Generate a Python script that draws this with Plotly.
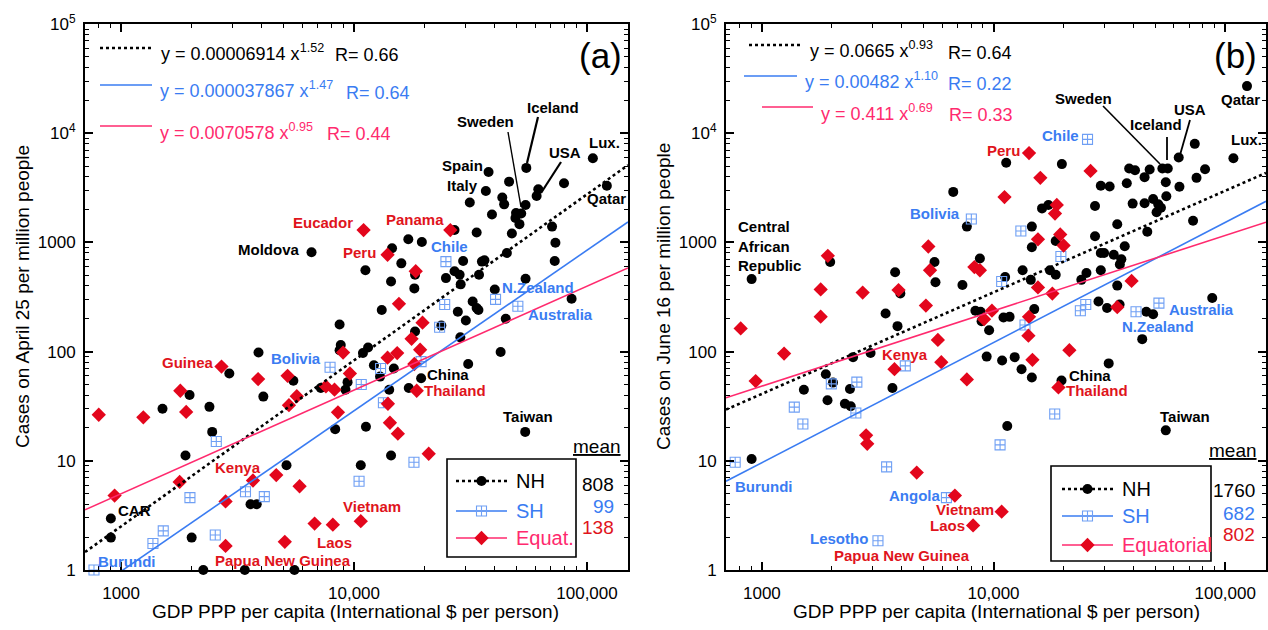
import numpy as np
import plotly.graph_objects as go

W, H = 1268, 630
FONT = "Liberation Sans, Arial, sans-serif"

# ---------------- data: panel (a) April 25 ----------------
nh_a_gdp = [106000, 54900, 37800, 46300, 61800, 60800, 79700, 36800, 121700, 43300,
            44100, 31400, 54500, 39100, 49600, 52200, 51300, 49300, 70800, 33600,
            47600, 27000, 73200, 45300, 17100, 19550, 14560, 6570, 15960, 29400,
            35400, 36300, 72700, 11190, 18280, 27000, 28400, 24800, 34400, 14420,
            54500, 28700, 18150, 40200, 85900, 32300, 33600, 34200, 27900, 13150,
            44800, 30200, 23700, 8670, 18280, 28600, 8770, 8670, 11490, 10920,
            42600, 3890, 30900, 12170, 14820, 2915, 12930, 19410, 5490, 9380,
            1968, 4080, 7200, 9190, 14160, 17180, 1506, 2395, 8300, 11250,
            54300, 2461, 14420, 1890, 5130, 10690, 3595, 3822, 904, 904,
            2009, 2254, 3397, 5548]
nh_a_cases = [5900, 4810, 4410, 3600, 3070, 2660, 3475, 2960, 3300, 2580,
              2230, 2320, 2200, 1800, 1860, 1840, 1470, 1670, 1395, 1234,
              1207, 1298, 993, 800, 1067, 1007, 885, 811, 643, 676,
              667, 686, 676, 556, 506, 544, 506, 471, 506, 438,
              464, 413, 379, 371, 305, 288, 251, 240, 232, 240,
              200, 193, 173, 177, 153, 135, 115, 103, 109, 97,
              99, 98, 77, 75, 70, 63, 59, 57, 54, 52.5,
              40, 38.7, 46.4, 44.8, 44.8, 46.4, 30, 31.2, 19.5, 20.5,
              18.4, 18.4, 11.2, 11.2, 9.1, 9.1, 4.0, 4.0, 2.96, 1.98,
              1.98, 1.0, 1.0, 1.0]

sh_a_gdp = [24800, 40500, 24500, 50500, 23300, 19400, 13000, 7890, 10740, 13370,
            2563, 18080, 10510, 1975, 3420, 4120, 1517, 1370, 2537, 765]
sh_a_cases = [667, 301, 270, 260, 167, 81, 70, 72, 50, 34,
              15, 9.7, 6.5, 4.6, 5.2, 4.7, 2.28, 1.75, 2.09, 1.0]

eq_a_gdp = [10990, 25900, 13930, 18400, 15590, 19680, 17660, 8975, 13930, 15320,
            19220, 18150, 2698, 9600, 3875, 5185, 1796, 7574, 8245, 18580,
            5679, 5255, 13980, 802, 1246, 1903, 8530, 14260, 15420, 20920,
            3683, 4636, 5838, 1784, 938, 2809, 10690, 6772, 8110, 5045,
            2809, 3915]
eq_a_cases = [1298, 1298, 771, 544, 274, 184, 131, 98, 88, 97,
              104, 77, 73, 63, 56, 60, 43.8, 48, 44.8, 43.8,
              39, 32.3, 33.3, 26.4, 25, 28, 27.8, 22.3, 17.7, 11.6,
              6.6, 7.4, 5.85, 6.4, 4.8, 4.25, 2.8, 2.66, 2.6, 1.81,
              1.66, 0.9]

# ---------------- data: panel (b) June 16 ----------------
nh_b_gdp = [124200, 108500, 73900, 63000, 53550, 56500, 81850, 75200, 38500, 40800,
            47200, 44870, 55400, 63450, 29040, 31720, 37600, 19720, 11340, 6700,
            55700, 48850, 44870, 17250, 51400, 52800, 50550, 39850, 27420, 34200,
            72650, 46100, 27420, 36840, 29040, 30000, 33040, 35620, 35100, 29040,
            25180, 23930, 34200, 28370, 30900, 35000, 87900, 45650, 48850, 43830,
            14630, 14630, 16190, 18550, 7670, 1972, 903, 3760, 5560, 5615,
            3960, 7340, 8730, 11220, 13350, 14480, 17510, 18550, 3420, 3850,
            2945, 2475, 8350, 8790, 8880, 9570, 11040, 11730, 14990, 9340,
            10890, 12340, 13210, 14630, 19650, 31410, 1888, 2027, 1518, 1920,
            2282, 2418, 2400, 3660, 11460, 55400, 903]
nh_b_cases = [27000, 5890, 7990, 5980, 4745, 4745, 4675, 3900, 4745, 4575,
              4645, 3960, 3550, 3230, 3300, 3255, 3475, 5210, 5370, 2900,
              2650, 2500, 2280, 2200, 2235, 2078, 1891, 2266, 2155, 1468,
              1578, 1251, 1140, 923, 799, 799, 771, 702, 629, 556,
              525, 454, 402, 288, 251, 270, 310, 232, 220, 130,
              1395, 903, 2048, 1030, 1395, 662, 461, 533, 662, 432,
              340, 407, 711, 481, 556, 454, 556, 506, 223, 171,
              97, 89, 237, 232, 190, 157, 205, 208, 245, 90,
              83, 89, 69, 58, 54.4, 78, 62, 52, 44.8, 35.8,
              33.3, 31.6, 45.4, 46.4, 20.8, 19.0, 10.4]

sh_b_gdp = [25450, 8020, 13120, 19530, 10840, 25010, 23700, 51750, 41210, 13670,
            4160, 2570, 1994, 1380, 1503, 2545, 18370, 10670, 3455, 767,
            6260, 3170]
sh_b_cases = [8770, 1636, 1270, 743, 438, 270, 237, 278, 232, 175,
              74, 52.5, 50.6, 31, 21.7, 27.4, 26.8, 14, 8.8, 9.7,
              4.6, 1.85]

eq_b_gdp = [14230, 15920, 26230, 11150, 18750, 18420, 15550, 19400, 20060, 5230,
            1926, 5320, 8265, 8730, 1794, 2723, 3890, 15550, 17940, 5105,
            39430, 34200, 1794, 810, 9840, 9100, 14230, 14140, 5750, 1247,
            21250, 14720, 5950, 3735, 940, 7670, 19060, 2818, 2850, 4660,
            6810, 10840, 8160, 3957]
eq_b_cases = [6570, 3900, 4510, 2600, 2202, 1837, 1067, 1181, 937, 917,
              754, 556, 594, 556, 371, 347, 366, 387, 340, 264,
              444, 255, 209, 163, 237, 198, 208, 140, 128, 96,
              103, 84, 80, 69, 53.7, 55.6, 47, 17.1, 14.3, 7.8,
              4.8, 3.42, 2.56, 0.9]

# power-law fits  y = a x^b
fits_a = [(0.00006914, 1.52, "0.00006914", "1.52", "0.66"),
          (0.000037867, 1.47, "0.000037867", "1.47", "0.64"),
          (0.0070578, 0.95, "0.0070578", "0.95", "0.44")]
fits_b = [(0.0665, 0.93, "0.0665", "0.93", "0.64"),
          (0.00482, 1.10, "0.00482", "1.10", "0.22"),
          (0.411, 0.69, "0.411", "0.69", "0.33")]

means_a = ["808", "99", "138"]
means_b = ["1760", "682", "802"]

x_ticks = [1000, 10000, 100000]
x_ticktext = ["1000", "10,000", "100,000"]
y_ticks = [1, 10, 100, 1000, 10000, 100000]
y_ticktext = ["1", "10", "100", "1000", "10<sup>4</sup>", "10<sup>5</sup>"]
X_MIN, X_MAX = 700, 150000

# ---------------- styles ----------------
BLACK = "#000000"
BLUE = "#3a7cf2"
BLUE_M = "#6f9ff4"
PINK = "#ff2a6e"
RED = "#e3061c"
LABEL_RED = "#e0141c"

def PX(X):
    return X / W

def PY(Y):
    return 1 - Y / H

fig = go.Figure()

panels = [("x", "y", nh_a_gdp, nh_a_cases, sh_a_gdp, sh_a_cases, eq_a_gdp, eq_a_cases, fits_a),
          ("x2", "y2", nh_b_gdp, nh_b_cases, sh_b_gdp, sh_b_cases, eq_b_gdp, eq_b_cases, fits_b)]

fit_styles = [dict(color=BLACK, width=2.6, dash="dot"),
              dict(color=BLUE, width=1.6),
              dict(color=PINK, width=1.6)]

for xa, ya, nx, ny, sx, sy, ex, ey, fits in panels:
    fig.add_trace(go.Scatter(x=nx, y=ny, mode="markers", xaxis=xa, yaxis=ya, cliponaxis=False,
                             marker=dict(symbol="circle", size=10, color=BLACK), showlegend=False))
    fig.add_trace(go.Scatter(x=sx, y=sy, mode="markers", xaxis=xa, yaxis=ya, cliponaxis=False,
                             marker=dict(symbol="square-cross-open", size=10, color=BLUE_M,
                                         line=dict(width=1.1, color=BLUE_M)), showlegend=False))
    fig.add_trace(go.Scatter(x=ex, y=ey, mode="markers", xaxis=xa, yaxis=ya, cliponaxis=False,
                             marker=dict(symbol="diamond", size=11, color=RED), showlegend=False))
    xs = np.array([X_MIN, X_MAX], dtype=float)
    for (a, b, *_), st in zip(fits, fit_styles):
        fig.add_trace(go.Scatter(x=xs, y=a * xs ** b, mode="lines", xaxis=xa, yaxis=ya,
                                 line=st, showlegend=False, hoverinfo="skip"))

# legend sample markers on a pixel-space overlay axis
leg = [
    (456, 507, [481, 511, 538]),
    (1062, 1113, [489, 516, 545]),
]
for x0, x1, ys in leg:
    xm = (x0 + x1) / 2
    specs = [(dict(symbol="circle", size=10, color=BLACK), dict(color=BLACK, width=2.6, dash="dot")),
             (dict(symbol="square-cross-open", size=10, color=BLUE_M, line=dict(width=1.1, color=BLUE_M)),
              dict(color=BLUE, width=1.6)),
             (dict(symbol="diamond", size=11, color=RED), dict(color=PINK, width=1.6))]
    for (mk, ln), yy in zip(specs, ys):
        fig.add_trace(go.Scatter(x=[x0, x1], y=[yy, yy], mode="lines", line=ln, xaxis="x3", yaxis="y3",
                                 showlegend=False, hoverinfo="skip"))
        fig.add_trace(go.Scatter(x=[xm], y=[yy], mode="markers", marker=mk, xaxis="x3", yaxis="y3",
                                 showlegend=False, hoverinfo="skip", cliponaxis=False))
# equation sample lines
eq_lines = [
    [(100, 152, 48), (100, 152, 85), (100, 152, 126)],
    [(749, 802, 45), (744, 797, 76), (762, 813, 107)],
]
for grp in eq_lines:
    for (x0, x1, yy), st in zip(grp, fit_styles):
        fig.add_trace(go.Scatter(x=[x0, x1], y=[yy, yy], mode="lines", line=st, xaxis="x3", yaxis="y3",
                                 showlegend=False, hoverinfo="skip"))

minor_x = [k * 10 ** d for d in range(2, 6) for k in range(2, 10) if X_MIN <= k * 10 ** d <= X_MAX]
minor_y = [k * 10 ** d for d in range(0, 5) for k in range(2, 10)]

def xcfg(domain, anchor):
    return dict(type="log", range=[np.log10(X_MIN), np.log10(X_MAX)], domain=domain, anchor=anchor,
                automargin=False,
                showline=True, linewidth=2, linecolor=BLACK, mirror="allticks",
                ticks="inside", ticklen=8, tickwidth=1.5, tickcolor=BLACK,
                tickmode="array", tickvals=x_ticks, ticktext=x_ticktext,
                tickfont=dict(size=17, color=BLACK, family=FONT), ticklabelstandoff=7,
                minor=dict(ticks="inside", ticklen=4, tickwidth=1.2, tickcolor=BLACK,
                           tickmode="array", tickvals=minor_x, showgrid=False),
                showgrid=False, zeroline=False)

def ycfg(domain, anchor):
    return dict(type="log", range=[0, 5], domain=domain, anchor=anchor,
                automargin=False,
                showline=True, linewidth=2, linecolor=BLACK, mirror="allticks",
                ticks="inside", ticklen=8, tickwidth=1.5, tickcolor=BLACK,
                tickmode="array", tickvals=y_ticks, ticktext=y_ticktext,
                tickfont=dict(size=17, color=BLACK, family=FONT), ticklabelstandoff=4,
                minor=dict(ticks="inside", ticklen=4, tickwidth=1.2, tickcolor=BLACK,
                           tickmode="array", tickvals=minor_y, showgrid=False),
                showgrid=False, zeroline=False)

ydom = [PY(570), PY(24)]
fig.update_layout(
    width=W, height=H, margin=dict(l=0, r=0, t=0, b=0, autoexpand=False),
    paper_bgcolor="white", plot_bgcolor="rgba(0,0,0,0)",
    font=dict(family=FONT, color=BLACK),
    xaxis=xcfg([PX(85), PX(628)], "y"),
    yaxis=ycfg(ydom, "x"),
    xaxis2=xcfg([PX(726), PX(1266)], "y2"),
    yaxis2=ycfg(ydom, "x2"),
    xaxis3=dict(domain=[0, 1], range=[0, W], anchor="y3", visible=False, fixedrange=True, automargin=False),
    yaxis3=dict(domain=[0, 1], range=[H, 0], anchor="x3", visible=False, fixedrange=True, automargin=False),
    showlegend=False,
)

ann = []
def txt(text, X, Y, color=BLACK, size=15, bold=True, xanchor="center", yanchor="middle", align="center"):
    t = f"<b>{text}</b>" if bold else text
    ann.append(dict(text=t, x=PX(X), y=PY(Y), xref="paper", yref="paper", showarrow=False,
                    xanchor=xanchor, yanchor=yanchor, align=align,
                    font=dict(size=size, color=color, family=FONT)))

labels_a = [("CAR", 134, 510, BLACK), ("Burundi", 127, 561, BLUE), ("Papua New Guinea", 283, 560, LABEL_RED),
            ("Laos", 334, 542, LABEL_RED), ("Vietnam", 372, 506, LABEL_RED), ("Kenya", 238, 467, LABEL_RED),
            ("Taiwan", 528, 416, BLACK), ("Thailand", 455, 390, LABEL_RED), ("China", 448, 374, BLACK),
            ("Guinea", 188, 363, LABEL_RED), ("Bolivia", 296, 358, BLUE), ("Australia", 560, 314, BLUE),
            ("N.Zealand", 538, 288, BLUE), ("Chile", 449, 247, BLUE), ("Peru", 359, 252, LABEL_RED),
            ("Moldova", 268, 250, BLACK), ("Eucador", 323, 222, LABEL_RED), ("Panama", 415, 219, LABEL_RED),
            ("Italy", 462, 185, BLACK), ("Spain", 462, 166, BLACK), ("Sweden", 485, 122, BLACK),
            ("Iceland", 553, 107, BLACK), ("USA", 565, 152, BLACK), ("Lux.", 604, 143, BLACK),
            ("Qatar", 606, 198, BLACK)]
labels_b = [("Qatar", 1240, 99, BLACK), ("Lux.", 1246, 139, BLACK), ("USA", 1190, 109, BLACK),
            ("Iceland", 1156, 125, BLACK), ("Sweden", 1083, 98, BLACK), ("Chile", 1060, 135, BLUE),
            ("Peru", 1003, 150, LABEL_RED), ("Bolivia", 935, 213, BLUE), ("Kenya", 905, 354, LABEL_RED),
            ("Australia", 1201, 309, BLUE), ("N.Zealand", 1158, 326, BLUE), ("China", 1090, 375, BLACK),
            ("Thailand", 1097, 390, LABEL_RED), ("Taiwan", 1185, 416, BLACK), ("Burundi", 764, 486, BLUE),
            ("Angola", 914, 495, BLUE), ("Vietnam", 965, 509, LABEL_RED), ("Laos", 947, 525, LABEL_RED),
            ("Lesotho", 839, 538, BLUE), ("Papua New Guinea", 902, 555, LABEL_RED)]
for t, X, Y, c in labels_a + labels_b:
    txt(t, X, Y, c)
txt("Central<br>African<br>Republic", 736, 246, BLACK, xanchor="left", align="left")

# equations
eq_text_a = [(159, 52, 333), (158, 90, 344), (158, 131, 325)]
eq_text_b = [(808, 50, 946), (803, 81, 946), (819, 112, 947)]
for fits, pos in ((fits_a, eq_text_a), (fits_b, eq_text_b)):
    for (a, b, sa, sb, r), (X, Y, XR), c in zip(fits, pos, [BLACK, BLUE, PINK]):
        txt(f"y = {sa} x<sup>{sb}</sup>", X, Y, c, size=18, bold=False, xanchor="left")
        txt(f"R= {r}", XR, Y + 3, c, size=18, bold=False, xanchor="left")

# panel tags
txt("(a)", 600, 55, BLACK, size=35, bold=False)
txt("(b)", 1235, 55, BLACK, size=35, bold=False)

# legend texts
for (x0, x1, ys), names, means, mx, mys, meanpos in [
        (leg[0], ["NH", "SH", "Equat."], means_a, 616, [484, 506, 527], (597, 446)),
        (leg[1], ["NH", "SH", "Equatorial"], means_b, 1257, [490, 513, 534], (1233, 450))]:
    for n, yy, c in zip(names, ys, [BLACK, BLUE, PINK]):
        txt(n, x1 + 7, yy, c, size=20, bold=False, xanchor="left")
    for m, yy, c in zip(means, mys, [BLACK, BLUE, LABEL_RED]):
        txt(m, mx, yy, c, size=19, bold=False, xanchor="right")
    txt("<u>mean</u>", meanpos[0], meanpos[1], BLACK, size=19, bold=False)

# axis titles
txt("GDP PPP per capita (International $ per person)", 356, 611, BLACK, size=19, bold=False)
txt("GDP PPP per capita (International $ per person)", 996, 611, BLACK, size=19, bold=False)
for title, X in (("Cases on April 25 per million people", 22), ("Cases on June 16 per million people", 663)):
    ann.append(dict(text=title, x=PX(X), y=PY(297), xref="paper", yref="paper", showarrow=False,
                    textangle=-90, xanchor="center", yanchor="middle",
                    font=dict(size=19, color=BLACK, family=FONT)))

fig.update_layout(annotations=ann)

shapes = []
def seg(x0, y0, x1, y1, w=1.5):
    shapes.append(dict(type="line", xref="paper", yref="paper", x0=PX(x0), y0=PY(y0), x1=PX(x1), y1=PY(y1),
                       line=dict(color=BLACK, width=w)))
# pointer lines
seg(508, 132, 521, 207, 1.4)
seg(538, 117, 527, 163, 2.2)
seg(561, 162, 541, 193, 2.2)
seg(1103, 106, 1160, 164, 1.6)
seg(1167, 137, 1167, 160, 1.8)
seg(1190, 120, 1180, 155, 1.8)
# legend boxes
for x0, y0, x1, y1 in ((447, 459, 576, 557), (1051, 466, 1211, 561)):
    shapes.append(dict(type="rect", xref="paper", yref="paper", x0=PX(x0), y0=PY(y0), x1=PX(x1), y1=PY(y1),
                       line=dict(color=BLACK, width=1.6), fillcolor="rgba(0,0,0,0)"))
fig.update_layout(shapes=shapes)

fig.write_html("out.html")
